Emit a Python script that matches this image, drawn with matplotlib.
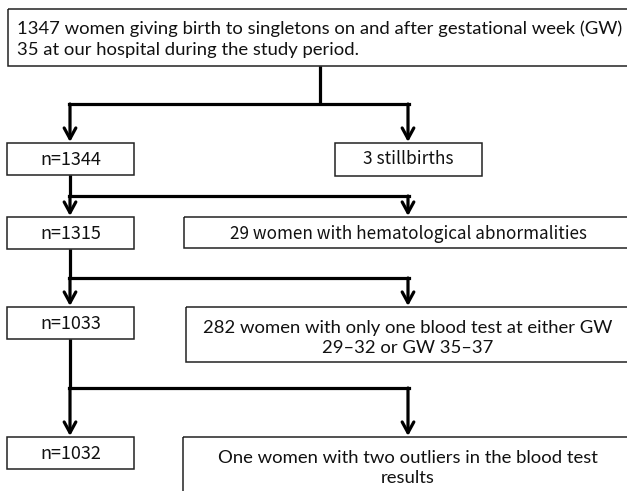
import matplotlib.pyplot as plt
from matplotlib.patches import Rectangle

# flowchart contents
top_text = "1347 women giving birth to singletons on and after gestational week (GW)\n35 at our hospital during the study period."
left_labels = ["n=1344", "n=1315", "n=1033", "n=1032"]
right_labels = [
    "3 stillbirths",
    "29 women with hematological abnormalities",
    "282 women with only one blood test at either GW\n29\u201332 or GW 35\u201337",
    "One women with two outliers in the blood test\nresults",
]

W, H = 627, 491
fig = plt.figure(figsize=(W / 100, H / 100), dpi=100)
ax = fig.add_axes([0, 0, 1, 1])
ax.set_xlim(0, W)
ax.set_ylim(H, 0)
ax.axis("off")

gothic = ["Noto Sans CJK JP", "DejaVu Sans"]
calibri = ["Lato", "DejaVu Sans"]
LW = 2.3


def box(x0, y0, x1, y1):
    ax.add_patch(Rectangle((x0, y0), x1 - x0, y1 - y0, fill=False,
                           lw=1.1, ec="#222222", clip_on=False))


def arrow(x, y0, y1):
    ax.annotate("", xy=(x, y1), xytext=(x, y0),
                arrowprops=dict(arrowstyle="->,head_length=0.55,head_width=0.3",
                                mutation_scale=14, lw=LW, color="black",
                                shrinkA=0, shrinkB=0))


# top box
box(8, 9, 660, 66)
ax.text(17, 39, top_text, ha="left", va="center", fontsize=13.3,
        family=calibri, linespacing=1.38, color="#111111")

# trunk from top box
ax.plot([320, 320], [66, 104], color="black", lw=LW, solid_capstyle="butt")

lx0, lx1, lcx = 7, 134, 70
rcx = 408
rows = [
    # (branch y, box top, box bottom, right x0, right x1, right bottom, text y)
    (104, 143, 175, 335, 482, 176, 159),
    (196, 217, 249, 184, 660, 248, 234),
    (278, 307, 339, 186, 660, 362, 338),
    (388, 437, 469, 183, 660, 520, 468),
]
fonts = [gothic, gothic, calibri, calibri]
sizes = [12.5, 12.3, 13.3, 13.3]
prev_bottom = None
for i, (by, t, b, rx0, rx1, rb, ty) in enumerate(rows):
    if prev_bottom is not None:
        ax.plot([lcx, lcx], [prev_bottom, by], color="black", lw=LW,
                solid_capstyle="butt")
    ax.plot([lcx - 1, rcx + 1], [by, by], color="black", lw=LW,
            solid_capstyle="projecting")
    arrow(lcx, by, t - 1)
    arrow(rcx, by, t - 1)
    box(lx0, t, lx1, b)
    ax.text(lcx + 1, (t + b) / 2 + 1, left_labels[i], ha="center",
            va="center", fontsize=13, family=gothic, color="#111111")
    box(rx0, t, rx1, rb)
    cx = (rx0 + rx1) / 2 if rx1 < W else rcx
    ax.text(cx, ty, right_labels[i], ha="center", va="center",
            fontsize=sizes[i], family=fonts[i], linespacing=1.35,
            color="#111111")
    prev_bottom = b

fig.savefig("out.png", dpi=100)
